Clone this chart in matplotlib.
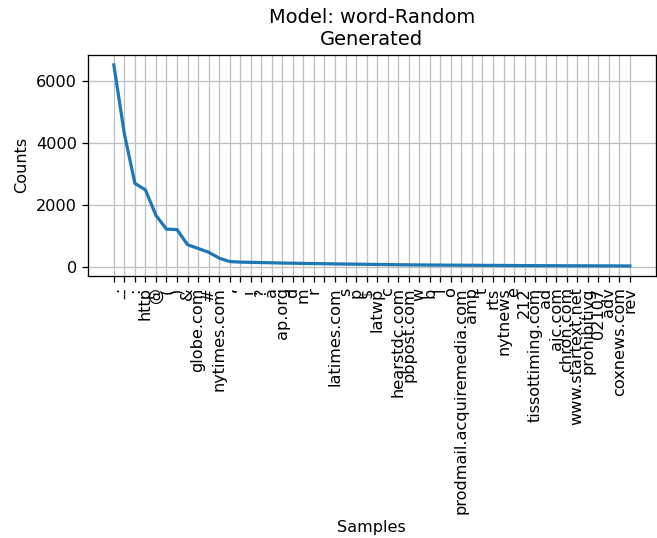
import matplotlib
matplotlib.use("Agg")
import matplotlib.pyplot as plt

# Most frequent tokens and their counts
samples = [
    ".", "--", ":", "http", "@", "(", ")", "&", "globe.com", "#",
    "nytimes.com", ",", "'", "!", "?", "a", "ap.org", "d", "m", "r",
    " ", "latimes.com", "s", "p", "$", "latwp", "c", "hearstdc.com", "pbpost.com", "w",
    "b", "l", "o", "prodmail.acquiremedia.com", "amp", "t", "rts", "nytnews", "e", "212",
    "tissottiming.com", "ad", "ajc.com", "chron.com", "www.startext.net", "prohibitivg", "02107", "adv", "coxnews.com", "rev",
]
counts = [
    6500, 4290, 2700, 2490, 1670, 1230, 1215, 730, 610, 490,
    300, 190, 172, 165, 158, 150, 142, 136, 130, 125,
    120, 114, 110, 106, 102, 97, 92, 88, 84, 81,
    78, 76, 74, 72, 70, 68, 66, 64, 62, 60,
    58, 57, 56, 55, 54, 53, 52, 51, 50, 49,
]

dpi = 116
fig = plt.figure(figsize=(657 / dpi, 538 / dpi), dpi=dpi)
ax = fig.add_axes([0.134, 0.487, 0.864, 0.411])

ax.grid(True, color="silver")
ax.plot(counts, linewidth=2, color="C0")
ax.set_xticks(range(len(samples)))
ax.set_xticklabels(samples, rotation=90)
ax.set_title("Model: word-Random\nGenerated")
ax.set_xlabel("Samples")
ax.set_ylabel("Counts")

fig.savefig("out.png", dpi=dpi)
